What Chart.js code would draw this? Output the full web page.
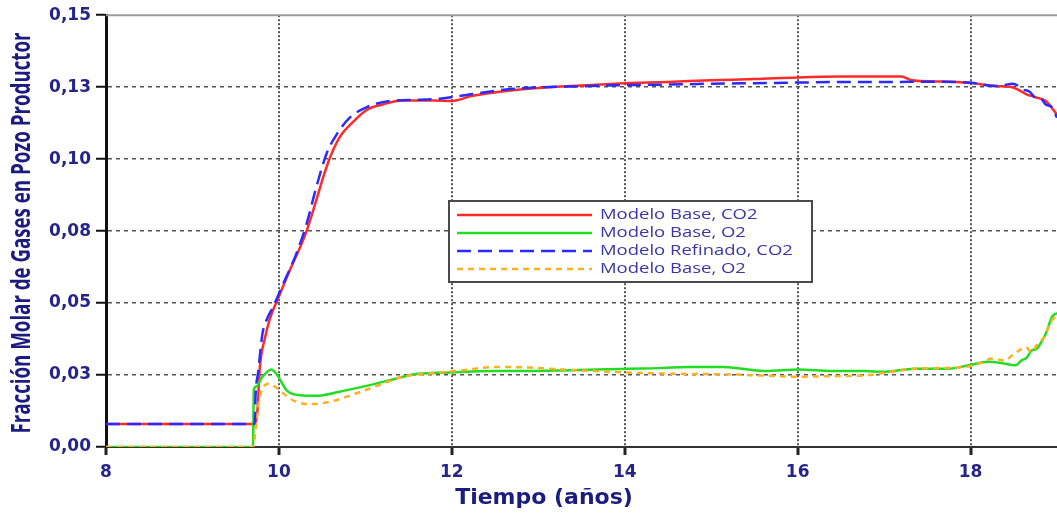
<!DOCTYPE html>
<html>
<head>
<meta charset="utf-8">
<script src="https://cdn.jsdelivr.net/npm/chart.js@4.4.0/dist/chart.umd.min.js"></script>
<style>
  html, body { margin: 0; padding: 0; background: #fff; }
  canvas { display: block; }
</style>
</head>
<body>
<canvas id="grafico" width="1057" height="516"></canvas>
<script>
// Time axis (years) and tick labels
const xTicks = [8, 10, 12, 14, 16, 18];
const yTicks = [0, 0.025, 0.05, 0.075, 0.1, 0.125, 0.15];
const yTickLabels = ['0,00', '0,03', '0,05', '0,08', '0,10', '0,13', '0,15'];

const seriesLabels = ['Modelo Base, CO2', 'Modelo Base, O2', 'Modelo Refinado, CO2', 'Modelo Base, O2'];

// Modelo Base, CO2
const tBaseCO2 = [8, 9.72, 9.75, 9.78, 9.84, 9.89, 10.01, 10.12, 10.24, 10.32, 10.43, 10.51, 10.59, 10.70, 10.86, 11.01, 11.2, 11.43, 11.78, 12.0, 12.24, 12.63, 13.0, 13.5, 14.0, 14.5, 15.0, 15.5, 16.0, 16.5, 17.2, 17.32, 17.6, 17.98, 18.29, 18.48, 18.56, 18.64, 18.75, 18.87, 19.0];
const baseCO2 = [0.008, 0.008, 0.012, 0.0277, 0.038, 0.044, 0.053, 0.061, 0.069, 0.075, 0.0855, 0.0935, 0.1005, 0.1075, 0.113, 0.117, 0.119, 0.1204, 0.1204, 0.1202, 0.122, 0.1237, 0.1247, 0.1256, 0.1264, 0.1268, 0.1274, 0.1278, 0.1284, 0.1287, 0.1287, 0.1274, 0.127, 0.1265, 0.1254, 0.125, 0.124, 0.1226, 0.1215, 0.1202, 0.1155];

// Modelo Base, O2 (solid)
const tBaseO2 = [8, 9.70, 9.71, 9.74, 9.8, 9.86, 9.91, 9.98, 10.09, 10.24, 10.43, 10.7, 11.05, 11.36, 11.55, 11.97, 12.51, 12.9, 13.28, 13.78, 14.05, 14.4, 14.74, 15.13, 15.4, 15.63, 16.01, 16.4, 16.78, 16.98, 17.36, 17.74, 17.98, 18.2, 18.35, 18.52, 18.59, 18.65, 18.71, 18.76, 18.82, 18.88, 18.94, 19.0];
const baseO2 = [0, 0, 0.02, 0.021, 0.024, 0.026, 0.0269, 0.025, 0.0197, 0.018, 0.0178, 0.0192, 0.0215, 0.0238, 0.0252, 0.0259, 0.0264, 0.0264, 0.0266, 0.027, 0.0272, 0.0274, 0.0278, 0.0278, 0.027, 0.0264, 0.0269, 0.0264, 0.0264, 0.0261, 0.0272, 0.0272, 0.0284, 0.0296, 0.0292, 0.0284, 0.0301, 0.031, 0.0336, 0.034, 0.0365, 0.04, 0.0451, 0.0466];

// Modelo Refinado, CO2
const tRefCO2 = [8, 9.72, 9.73, 9.76, 9.81, 9.87, 9.93, 10.05, 10.2, 10.32, 10.43, 10.55, 10.67, 10.82, 11.01, 11.28, 11.6, 11.86, 12.24, 12.63, 13.0, 13.5, 14.0, 14.5, 15.0, 15.5, 16.0, 16.5, 17.0, 17.5, 18.0, 18.29, 18.4, 18.48, 18.55, 18.59, 18.68, 18.75, 18.82, 18.87, 18.94, 19.0];
const refCO2 = [0.008, 0.008, 0.018, 0.026, 0.0394, 0.045, 0.0485, 0.0567, 0.067, 0.0775, 0.09, 0.1018, 0.1087, 0.1144, 0.118, 0.1202, 0.1206, 0.121, 0.1226, 0.1242, 0.1249, 0.1253, 0.1257, 0.1259, 0.1262, 0.1264, 0.1266, 0.1268, 0.1268, 0.1269, 0.1265, 0.1254, 0.1258, 0.1262, 0.1255, 0.1243, 0.1235, 0.1213, 0.1208, 0.119, 0.118, 0.1144];

// Modelo Base, O2 (dashed)
const tBaseO2b = [8, 9.70, 9.73, 9.77, 9.82, 9.89, 9.95, 10.01, 10.1, 10.2, 10.36, 10.59, 10.89, 11.16, 11.43, 11.74, 12.13, 12.51, 12.9, 13.28, 13.67, 13.98, 14.48, 15.24, 15.6, 16.01, 16.4, 16.78, 17.1, 17.36, 17.94, 18.1, 18.25, 18.4, 18.48, 18.56, 18.64, 18.7, 18.79, 18.85, 18.92, 19.0];
const baseO2b = [0, 0, 0.006, 0.016, 0.0209, 0.022, 0.021, 0.0197, 0.0175, 0.0157, 0.0149, 0.0157, 0.0186, 0.0215, 0.0244, 0.0255, 0.0267, 0.0278, 0.0276, 0.0269, 0.0264, 0.0259, 0.0255, 0.0252, 0.0248, 0.0244, 0.0246, 0.0249, 0.0262, 0.0272, 0.0278, 0.029, 0.0307, 0.03, 0.0319, 0.0335, 0.0347, 0.033, 0.0365, 0.038, 0.043, 0.046];

const navy = '#24248a';

function toPoints(t, v) {
    return t.map((x, i) => ({ x: x, y: v[i] }));
}

function makeSeries(label, t, v, color, dash, order) {
    return {
        label: label,
        data: toPoints(t, v),
        borderColor: color,
        backgroundColor: color,
        borderWidth: 2.5,
        borderDash: dash,
        pointRadius: 0,
        cubicInterpolationMode: 'monotone',
        order: order
    };
}

// Text drawn wide, like the rest of the figure's lettering
function wideText(ctx, text, x, y, stretch) {
    ctx.save();
    ctx.translate(x, y);
    ctx.scale(stretch, 1);
    ctx.fillText(text, 0, 0);
    ctx.restore();
}

// Frame top line, floating legend and axis titles
const extras = {
    id: 'extras',
    afterDraw(chart) {
        const { ctx, chartArea: a } = chart;
        ctx.save();

        ctx.strokeStyle = '#9a9a9a';
        ctx.lineWidth = 2;
        ctx.beginPath();
        ctx.moveTo(a.left, a.top);
        ctx.lineTo(a.right, a.top);
        ctx.stroke();

        // legend box
        const bx = 449, by = 201, bw = 363, bh = 81;
        ctx.fillStyle = '#fff';
        ctx.fillRect(bx, by, bw, bh);
        ctx.strokeStyle = '#4a4a4a';
        ctx.lineWidth = 2;
        ctx.strokeRect(bx, by, bw, bh);

        ctx.font = '14px "Open Sans"';
        ctx.textBaseline = 'middle';
        chart.data.datasets.forEach((ds, i) => {
            const y = by + 14 + i * 18;
            ctx.strokeStyle = ds.borderColor;
            ctx.lineWidth = ds.borderWidth;
            ctx.setLineDash(ds.borderDash);
            ctx.beginPath();
            ctx.moveTo(bx + 8, y);
            ctx.lineTo(bx + 143, y);
            ctx.stroke();
            ctx.setLineDash([]);
            ctx.fillStyle = '#3a36a8';
            wideText(ctx, ds.label, bx + 151, y, 1.32);
        });

        // x title
        ctx.font = 'bold 22px "DejaVu Sans"';
        ctx.fillStyle = '#1c1c80';
        ctx.textAlign = 'center';
        ctx.fillText('Tiempo (años)', 544, 498);

        // y title, rotated and widened across the axis
        ctx.save();
        ctx.translate(23, 233);
        ctx.rotate(-Math.PI / 2);
        ctx.scale(1, 1.4);
        ctx.font = 'bold 18.7px "Open Sans"';
        ctx.textAlign = 'center';
        ctx.textBaseline = 'middle';
        ctx.fillText('Fracción Molar de Gases en Pozo Productor', 0, 0);
        ctx.restore();

        ctx.restore();
    }
};

new Chart(document.getElementById('grafico'), {
    type: 'line',
    data: {
        datasets: [
            makeSeries(seriesLabels[0], tBaseCO2, baseCO2, '#ff2a2a', [], 3),
            makeSeries(seriesLabels[1], tBaseO2, baseO2, '#22dd22', [], 2),
            makeSeries(seriesLabels[2], tRefCO2, refCO2, '#2b2bff', [14, 7], 0),
            makeSeries(seriesLabels[3], tBaseO2b, baseO2b, '#ffb020', [6, 5], 1)
        ]
    },
    options: {
        responsive: false,
        devicePixelRatio: 1,
        animation: false,
        layout: { padding: { top: 14, right: 0, left: 0, bottom: 0 } },
        plugins: {
            legend: { display: false },
            tooltip: { enabled: false }
        },
        scales: {
            x: {
                type: 'linear',
                min: 8,
                max: 19,
                afterFit: (s) => { s.height = 69; },
                afterBuildTicks: (s) => { s.ticks = xTicks.map(v => ({ value: v })); },
                ticks: {
                    callback: (v) => String(v),
                    color: navy,
                    font: { family: 'DejaVu Sans', size: 17, weight: 'bold' },
                    padding: 7,
                    maxRotation: 0
                },
                grid: {
                    color: '#555',
                    lineWidth: 2,
                    tickLength: 8,
                    tickColor: '#222',
                    tickWidth: 3
                },
                border: { color: '#333', width: 2, dash: [2, 2] }
            },
            y: {
                min: 0,
                max: 0.15,
                afterFit: (s) => { s.width = 106; },
                afterBuildTicks: (s) => { s.ticks = yTicks.map(v => ({ value: v })); },
                ticks: {
                    callback: (v, i) => yTickLabels[i],
                    color: navy,
                    font: { family: 'DejaVu Sans', size: 17, weight: 'bold' },
                    padding: 5
                },
                grid: {
                    color: (c) => (c.tick && c.tick.value >= 0.15 ? 'rgba(0,0,0,0)' : '#555'),
                    lineWidth: 1.5,
                    tickLength: 10,
                    tickColor: '#111',
                    tickWidth: 2
                },
                border: { color: '#111', width: 3, dash: [4, 4] }
            }
        }
    },
    plugins: [extras]
});
</script>
</body>
</html>
